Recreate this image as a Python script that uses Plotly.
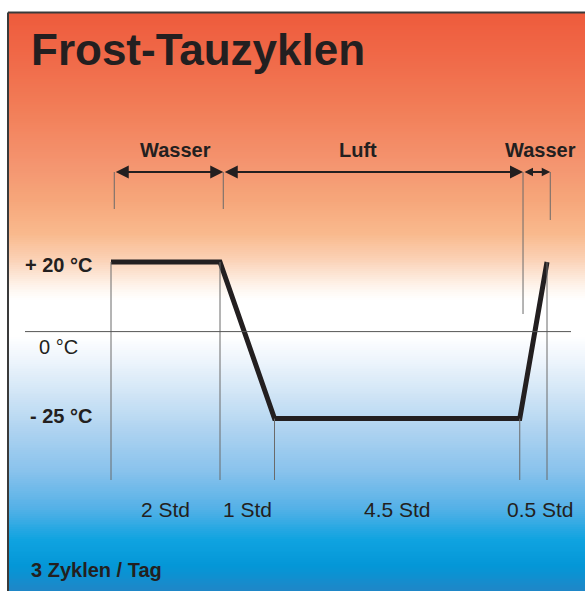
import numpy as np
import plotly.graph_objects as go

# ---------------- data ----------------
phase_hours = [2, 1, 4.5, 0.5]                 # Dauer je Abschnitt (Std)
phase_labels = ["2 Std", "1 Std", "4.5 Std", "0.5 Std"]
profile_temps = [20, 20, -25, -25, 20]          # °C an den Abschnittsgrenzen
temp_ticks = [20, 0, -25]
temp_tick_labels = ["+ 20 °C", "0 °C", "- 25 °C"]
medium_labels = ["Wasser", "Luft", "Wasser"]
medium_edges = [0, 2, 7.5, 8]                  # Std: Wasser | Luft | Wasser
title_text = "Frost-Tauzyklen"
footer_text = "3 Zyklen / Tag"

profile_times = list(np.concatenate([[0], np.cumsum(phase_hours)]))

# ---------------- geometry ----------------
W, H = 585, 591
PX_PER_H = 54.5
PX_PER_C = 3.48
T0_PX = 111.0      # pixel x of t = 0
T20_PY = 262.0     # pixel y of +20 °C

x_range = [-T0_PX / PX_PER_H, (W - T0_PX) / PX_PER_H]
y_top = 20 + T20_PY / PX_PER_C
y_range = [y_top - H / PX_PER_C, y_top]


def px2x(px):
    return x_range[0] + px / PX_PER_H


def py2y(py):
    return y_top - np.asarray(py) / PX_PER_C


def pxp(px):
    return px / W


def pyp(py):
    return 1 - py / H


INK = "#231F20"
GUIDE = "#6a6a6a"
FONT = "Liberation Sans, Arial, Helvetica, sans-serif"

fig = go.Figure()

# ---------------- background gradient ----------------
grad_stops = [
    (13, "#EE5B3C"), (60, "#F06A49"), (110, "#F27E58"), (165, "#F49570"),
    (200, "#F6A67A"), (235, "#F9BA8E"), (262, "#FBD4BA"), (285, "#FEF3EA"),
    (300, "#FFFFFF"), (336, "#FFFFFF"), (360, "#EEF5FC"), (398, "#CDE3F5"),
    (435, "#AAD1F0"), (472, "#88C2EC"), (508, "#55B1E7"), (540, "#0FA3E0"),
    (566, "#0497D7"), (591, "#1F86C7"),
]
g0, g1 = grad_stops[0][0], grad_stops[-1][0]
colorscale = [[(p - g0) / (g1 - g0), c] for p, c in grad_stops]
N = 300
py_edges = np.linspace(g0, g1, N + 1)
py_cent = 0.5 * (py_edges[:-1] + py_edges[1:])
zfrac = (py_cent - g0) / (g1 - g0)
y_edges = py2y(py_edges)[::-1]
zrows = [[v, v] for v in zfrac[::-1]]
fig.add_trace(go.Heatmap(
    x=[px2x(9), px2x(300), px2x(W + 2)], y=list(y_edges), z=zrows,
    colorscale=colorscale, zmin=0, zmax=1, showscale=False,
    hoverinfo="skip", zsmooth=False,
))

# ---------------- guide lines ----------------
y_bottom_guides = float(py2y(480))
shapes = []
for t, temp in zip(profile_times, profile_temps):
    shapes.append(dict(type="line", xref="x", yref="y", x0=t, x1=t,
                       y0=temp, y1=y_bottom_guides,
                       line=dict(color=GUIDE, width=1)))
# zero line
shapes.append(dict(type="line", xref="paper", yref="y", x0=pxp(25), x1=pxp(571),
                   y0=0, y1=0, line=dict(color="#555555", width=1)))
# frame
shapes.append(dict(type="line", xref="paper", yref="paper", x0=pxp(8), x1=1.01,
                   y0=pyp(12.5), y1=pyp(12.5), line=dict(color="#3a3a3a", width=2)))
shapes.append(dict(type="line", xref="paper", yref="paper", x0=pxp(8), x1=pxp(8),
                   y0=pyp(12.5), y1=-0.01, line=dict(color="#3a3a3a", width=2)))

# bracket ticks
arrow_y = float(py2y(172))
bracket_offset = 0.06
bracket_x = [e + bracket_offset for e in medium_edges]
tick_bottoms = [209, 209, 314, 220]
for bx, tb in zip(bracket_x, tick_bottoms):
    shapes.append(dict(type="line", xref="x", yref="y", x0=bx, x1=bx,
                       y0=arrow_y, y1=float(py2y(tb)),
                       line=dict(color=GUIDE, width=1)))

# ---------------- temperature profile ----------------
fig.add_trace(go.Scatter(
    x=profile_times, y=profile_temps, mode="lines",
    line=dict(color=INK, width=5), hoverinfo="skip", showlegend=False,
))

annotations = []
# double arrows
head_sizes = [1.3, 1.3, 0.85]
for a, b, hs in zip(bracket_x[:-1], bracket_x[1:], head_sizes):
    annotations.append(dict(
        x=b, y=arrow_y, ax=a, ay=arrow_y, xref="x", yref="y",
        axref="x", ayref="y", text="", showarrow=True,
        arrowhead=2, startarrowhead=2, arrowside="end+start",
        arrowsize=hs, startarrowsize=hs, arrowwidth=2, arrowcolor=INK,
    ))

# medium labels
label_px = [175, 358, 540]
for lab, lx in zip(medium_labels, label_px):
    annotations.append(dict(
        x=pxp(lx), y=pyp(150), xref="paper", yref="paper", text=f"<b>{lab}</b>",
        showarrow=False, xanchor="center", yanchor="middle",
        font=dict(family=FONT, size=20, color=INK),
    ))

# temperature labels
label_shift = {20: -3, 0: -15, -25: 3}
for temp, lab in zip(temp_ticks, temp_tick_labels):
    if temp == 0:
        annotations.append(dict(
            x=pxp(37), y=temp, xref="paper", yref="y", yshift=label_shift[temp],
            text=lab, showarrow=False, xanchor="left", yanchor="middle",
            font=dict(family=FONT, size=20, color=INK)))
    else:
        annotations.append(dict(
            x=pxp(94), y=temp, xref="paper", yref="y", yshift=label_shift[temp],
            text=f"<b>{lab}</b>", showarrow=False, xanchor="right", yanchor="middle",
            font=dict(family=FONT, size=20, color=INK)))

# duration labels
shifts = [0, 0, 0, 7]
for i, lab in enumerate(phase_labels):
    mid = 0.5 * (profile_times[i] + profile_times[i + 1])
    annotations.append(dict(
        x=mid, y=pyp(509), xref="x", yref="paper", xshift=shifts[i],
        text=lab, showarrow=False, xanchor="center", yanchor="middle",
        font=dict(family=FONT, size=21, color=INK)))

# title & footer
annotations.append(dict(
    x=pxp(29), y=pyp(50), xref="paper", yref="paper", text=f"<b>{title_text}</b>",
    showarrow=False, xanchor="left", yanchor="middle",
    font=dict(family=FONT, size=44, color=INK)))
annotations.append(dict(
    x=pxp(29), y=pyp(570), xref="paper", yref="paper", text=f"<b>{footer_text}</b>",
    showarrow=False, xanchor="left", yanchor="middle",
    font=dict(family=FONT, size=20, color=INK)))

fig.update_layout(
    width=W, height=H, autosize=False,
    margin=dict(l=0, r=0, t=0, b=0, pad=0),
    paper_bgcolor="white", plot_bgcolor="white",
    xaxis=dict(range=x_range, visible=False, fixedrange=True),
    yaxis=dict(range=list(y_range), visible=False, fixedrange=True),
    shapes=shapes, annotations=annotations, showlegend=False,
)

fig.write_html(
    "out.html",
    config={"displayModeBar": False, "staticPlot": True},
    post_script="document.body.style.margin='0';document.body.style.overflow='hidden';",
)
